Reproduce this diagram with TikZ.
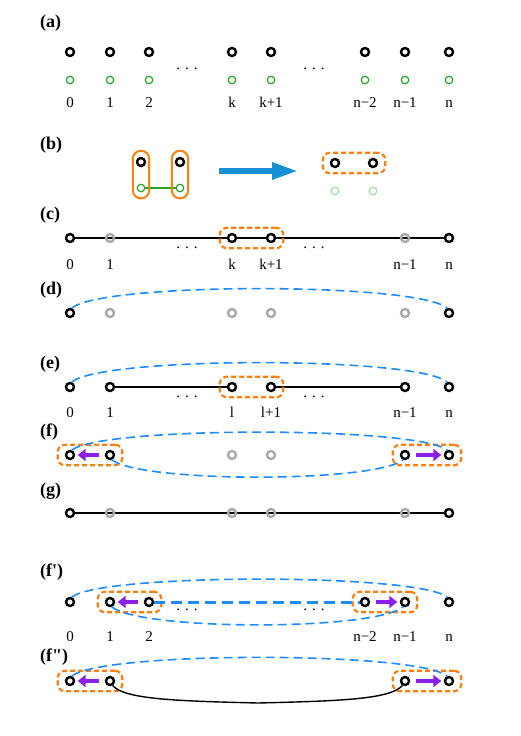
\documentclass[tikz,border=0pt]{standalone}
\usepackage{fontspec}
\setmainfont{Liberation Serif}
\newfontfamily\tagfont{Liberation Serif}
\usetikzlibrary{positioning,arrows.meta,fit,backgrounds}
\definecolor{selorange}{RGB}{255,127,14}
\definecolor{loopblue}{RGB}{30,140,255}
\definecolor{bigblue}{RGB}{22,144,212}
\definecolor{gridgreen}{RGB}{44,160,44}
\definecolor{palegreen}{RGB}{165,218,165}
\definecolor{ghostgray}{RGB}{170,170,170}
\definecolor{hopviolet}{RGB}{140,30,235}

\tikzset{
  site/.style={circle,draw=black,fill=white,line width=2.4pt,minimum size=8pt,inner sep=0pt},
  ghost/.style={circle,draw=ghostgray,line width=2.4pt,minimum size=8pt,inner sep=0pt},
  aux/.style={circle,draw=gridgreen,line width=1.2pt,minimum size=7.5pt,inner sep=0pt},
  fadeaux/.style={aux,draw=palegreen},
  idx/.style={font=\fontsize{15}{18}\selectfont,text height=10pt,text depth=0pt,inner sep=0pt},
  tag/.style={anchor=west,font=\tagfont\bfseries\fontsize{18}{20}\selectfont,text height=13pt,text depth=4pt,inner sep=0pt},
  gap/.style={font=\fontsize{15}{18}\selectfont,inner sep=0pt},
  selbox/.style={draw=selorange,line width=2.2pt,dash pattern=on 5pt off 3pt,rounded corners=7pt,inner xsep=7pt,inner ysep=5pt},
  pairbox/.style={draw=selorange,line width=2pt,rounded corners=8pt,inner xsep=3pt,inner ysep=6pt},
  chain/.style={line width=1.6pt,black},
  loop/.style={loopblue,line width=1.6pt,dash pattern=on 9pt off 5pt},
  hop/.style={hopviolet,line width=3.6pt,-{Triangle[length=8pt,width=12pt]},shorten <=6pt,shorten >=2.5pt},
}
\newcommand{\threedots}{.\hspace{5pt}.\hspace{5pt}.}

\begin{document}
\begin{tikzpicture}[x=1pt,y=-1pt]
    \useasboundingbox (0,0) rectangle (520,736);
    % (a)
    \node[tag] (ta) at (40,23) {(a)};
    \foreach \x/\i/\t in {70/0/0,110/1/1,149/2/2,232/3/k,271/4/k+1,365/5/n−2,405/6/n−1,449/7/n}{
        \node[site] (a\i) at (\x,52) {};
        \node[aux] (ag\i) at (\x,80) {};
        \node[idx] (alab\i) at (\x,102) {\t};
    }
    \node[gap] (adotsl) at (187,69) {\threedots};
    \node[gap] (adotsr) at (314,69) {\threedots};
    % (b)
    \node[tag] (tb) at (40,145) {(b)};
    \node[site] (bt0) at (141,162) {};
    \node[site] (bt1) at (180,162) {};
    \node[aux] (bb0) at (141,188) {};
    \node[aux] (bb1) at (180,188) {};
    \draw[gridgreen,line width=1.2pt] (bb0) -- (bb1);
    \node[pairbox,fit=(bt0)(bb0)] (bp0) {};
    \node[pairbox,fit=(bt1)(bb1)] (bp1) {};
    \coordinate (btail) at (219,171);
    \coordinate (bhead) at (298,171);
    \draw[bigblue,line width=6pt,-{Triangle[length=26pt,width=16pt]}] (btail) -- (bhead);
    \node[site] (br0) at (335,163) {};
    \node[site] (br1) at (373,163) {};
    \node[fadeaux] (brg0) at (335,191) {};
    \node[fadeaux] (brg1) at (373,191) {};
    \node[selbox,fit=(br0)(br1)] (brbox) {};
    % (c)
    \node[tag] (tc) at (40,215) {(c)};
    \node[site] (c0) at (70,238) {};
    \node[ghost] (c1) at (110,238) {};
    \node[site] (ck) at (232,238) {};
    \node[site] (ck1) at (271,238) {};
    \node[ghost] (cn1) at (405,238) {};
    \node[site] (cn) at (449,238) {};
    \begin{scope}[on background layer]
        \draw[chain] (c0) -- (cn);
    \end{scope}
    \node[selbox,fit=(ck)(ck1)] (cbox) {};
    \node[gap] (cdotsl) at (187,248) {\threedots};
    \node[gap] (cdotsr) at (314,248) {\threedots};
    \foreach \x/\i/\t in {70/0/0,110/1/1,232/3/k,271/4/k+1,405/6/n−1,449/7/n}
        \node[idx] (clab\i) at (\x,264) {\t};
    % (d)
    \node[tag] (td) at (40,290) {(d)};
    \node[site] (d0) at (70,313) {};
    \node[ghost] (d1) at (110,313) {};
    \node[ghost] (dk) at (232,313) {};
    \node[ghost] (dk1) at (271,313) {};
    \node[ghost] (dn1) at (405,313) {};
    \node[site] (dn) at (449,313) {};
    \draw[loop] (d0.70) .. controls +(30,-26) and +(-30,-26) .. (dn.110);
    % (e)
    \node[tag] (te) at (40,364) {(e)};
    \node[site] (e0) at (70,387) {};
    \node[site] (e1) at (110,387) {};
    \node[site] (el) at (232,387) {};
    \node[site] (el1) at (271,387) {};
    \node[site] (en1) at (405,387) {};
    \node[site] (en) at (449,387) {};
    \draw[chain] (e1) -- (el);
    \draw[chain] (el1) -- (en1);
    \node[selbox,fit=(el)(el1)] (ebox) {};
    \draw[loop] (e0.70) .. controls +(30,-26) and +(-30,-26) .. (en.110);
    \node[gap] (edotsl) at (187,397) {\threedots};
    \node[gap] (edotsr) at (314,397) {\threedots};
    \foreach \x/\i/\t in {70/0/0,110/1/1,232/3/l,271/4/l+1,405/6/n−1,449/7/n}
        \node[idx] (elab\i) at (\x,412) {\t};
    % (f)
    \node[tag] (tf) at (40,432) {(f)};
    \node[site] (f0) at (70,455) {};
    \node[site] (f1) at (110,455) {};
    \node[ghost] (fl) at (232,455) {};
    \node[ghost] (fl1) at (271,455) {};
    \node[site] (fn1) at (405,455) {};
    \node[site] (fn) at (449,455) {};
    \node[selbox,fit=(f0)(f1)] (fboxl) {};
    \node[selbox,fit=(fn1)(fn)] (fboxr) {};
    \draw[hop] (f1.west) -- (f0.east);
    \draw[hop] (fn1.east) -- (fn.west);
    \draw[loop] (f0.70) .. controls +(30,-24) and +(-30,-24) .. (fn.110);
    \draw[loop] (f1.-70) .. controls +(30,23) and +(-30,23) .. (fn1.-110);
    % (g)
    \node[tag] (tg) at (40,491) {(g)};
    \node[site] (g0) at (70,513) {};
    \node[ghost] (g1) at (110,513) {};
    \node[ghost] (gl) at (232,513) {};
    \node[ghost] (gl1) at (271,513) {};
    \node[ghost] (gn1) at (405,513) {};
    \node[site] (gn) at (449,513) {};
    \begin{scope}[on background layer]
        \draw[chain] (g0) -- (gn);
    \end{scope}
    % (f')
    \node[tag] (tp) at (40,572) {(f')};
    \node[site] (p0) at (70,602) {};
    \node[site] (p1) at (110,602) {};
    \node[site] (p2) at (149,602) {};
    \node[site] (pn2) at (365,602) {};
    \node[site] (pn1) at (405,602) {};
    \node[site] (pn) at (449,602) {};
    \node[selbox,fit=(p1)(p2)] (pboxl) {};
    \node[selbox,fit=(pn2)(pn1)] (pboxr) {};
    \draw[hop] (p2.west) -- (p1.east);
    \draw[hop] (pn2.east) -- (pn1.west);
    \draw[loopblue,line width=3pt,dash pattern=on 11pt off 6pt] (p2.east) -- (pn2.west);
    \draw[loop] (p0.70) .. controls +(30,-24) and +(-30,-24) .. (pn.110);
    \draw[loop] (p1.-70) .. controls +(30,24) and +(-30,24) .. (pn1.-110);
    \node[gap] (pdotsl) at (187,610) {\threedots};
    \node[gap] (pdotsr) at (314,610) {\threedots};
    \foreach \x/\i/\t in {70/0/0,110/1/1,149/2/2,365/5/n−2,405/6/n−1,449/7/n}
        \node[idx] (plab\i) at (\x,636) {\t};
    % (f'')
    \node[tag] (tq) at (40,657) {(f")};
    \node[site] (q0) at (70,681) {};
    \node[site] (q1) at (110,681) {};
    \node[site] (qn1) at (405,681) {};
    \node[site] (qn) at (449,681) {};
    \node[selbox,fit=(q0)(q1)] (qboxl) {};
    \node[selbox,fit=(qn1)(qn)] (qboxr) {};
    \draw[hop] (q1.west) -- (q0.east);
    \draw[hop] (qn1.east) -- (qn.west);
    \draw[loop] (q0.70) .. controls +(30,-25) and +(-30,-25) .. (qn.110);
    \coordinate (qcusp) at (258,703);
    \draw[black,line width=1.4pt] (q1.-60) .. controls +(12,14) and +(-80,-2) .. (qcusp)
        .. controls +(80,-2) and +(-12,14) .. (qn1.-120);
\end{tikzpicture}
\end{document}
